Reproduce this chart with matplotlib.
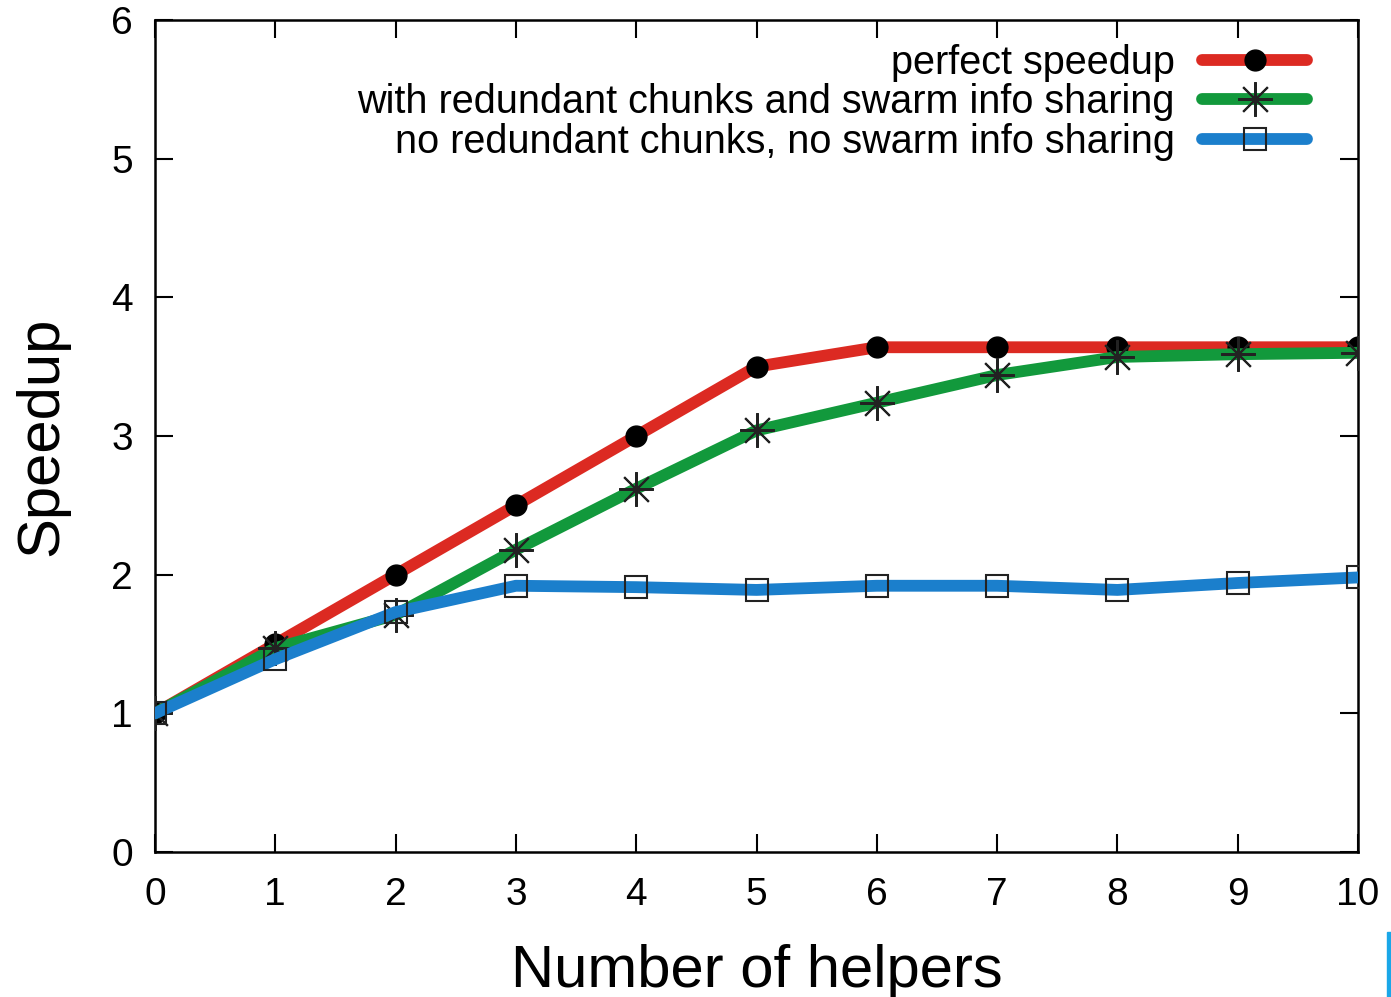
import matplotlib
matplotlib.use("Agg")
import matplotlib.pyplot as plt
from matplotlib.patches import Rectangle

plt.rcParams['font.family'] = ['Liberation Sans', 'DejaVu Sans']

# Données
helpers = [0, 1, 2, 3, 4, 5, 6, 7, 8, 9, 10]
perfect = [1.0, 1.5, 2.0, 2.5, 3.0, 3.5, 3.64, 3.64, 3.64, 3.64, 3.64]
with_sharing = [1.0, 1.47, 1.71, 2.18, 2.62, 3.04, 3.24, 3.44, 3.57, 3.59, 3.6]
no_sharing = [1.0, 1.39, 1.73, 1.92, 1.91, 1.89, 1.92, 1.92, 1.89, 1.94, 1.98]

labels = ["perfect speedup",
          "with redundant chunks and swarm info sharing",
          "no redundant chunks, no swarm info sharing"]

red = "#dc2a22"
green = "#12993c"
blue = "#1b7fcc"

fig = plt.figure(figsize=(13.91, 9.97), dpi=100)
ax = fig.add_axes([155 / 1391, 1 - 852 / 997, (1358 - 155) / 1391, (852 - 20) / 997])

ax.plot(helpers, perfect, color=red, lw=8.5, solid_joinstyle="round", solid_capstyle="round",
        marker="o", ms=15, mfc="black", mec="black", label=labels[0], zorder=2)
ax.plot(helpers, with_sharing, color=green, lw=8.5, solid_joinstyle="round", solid_capstyle="round",
        marker=(8, 2, 0), ms=25, mec="#222222", mew=1.5, label=labels[1], zorder=3)
ax.plot(helpers, no_sharing, color=blue, lw=8.5, solid_joinstyle="round", solid_capstyle="round",
        marker="s", ms=15.5, mfc="none", mec="#222222", mew=1.5, label=labels[2], zorder=4)

ax.set_xlim(0, 10)
ax.set_ylim(0, 6)
ax.set_xticks(range(0, 11))
ax.set_yticks(range(0, 7))
ax.tick_params(direction="in", length=13, width=1.5, top=True, right=True, labelsize=28)
ax.tick_params(axis="x", pad=18)
ax.tick_params(axis="y", pad=16)
for s in ax.spines.values():
    s.set_linewidth(1.8)

ax.set_xlabel("Number of helpers", fontsize=43, labelpad=22)
ax.set_ylabel("Speedup", fontsize=43, labelpad=30)

leg = ax.legend(loc="upper right", frameon=False, markerfirst=False, fontsize=28.5,
                handlelength=2.67, handletextpad=0.68, labelspacing=0.03,
                borderpad=0, borderaxespad=0, bbox_to_anchor=(0.958, 0.971))

# petit bord bleu en bas à droite (présent dans l'image)
fig.patches.append(Rectangle((1387 / 1391, 0), 4 / 1391, 65 / 997,
                             transform=fig.transFigure, color="#1aa7e8", zorder=10))

fig.savefig("out.png", dpi=100)
